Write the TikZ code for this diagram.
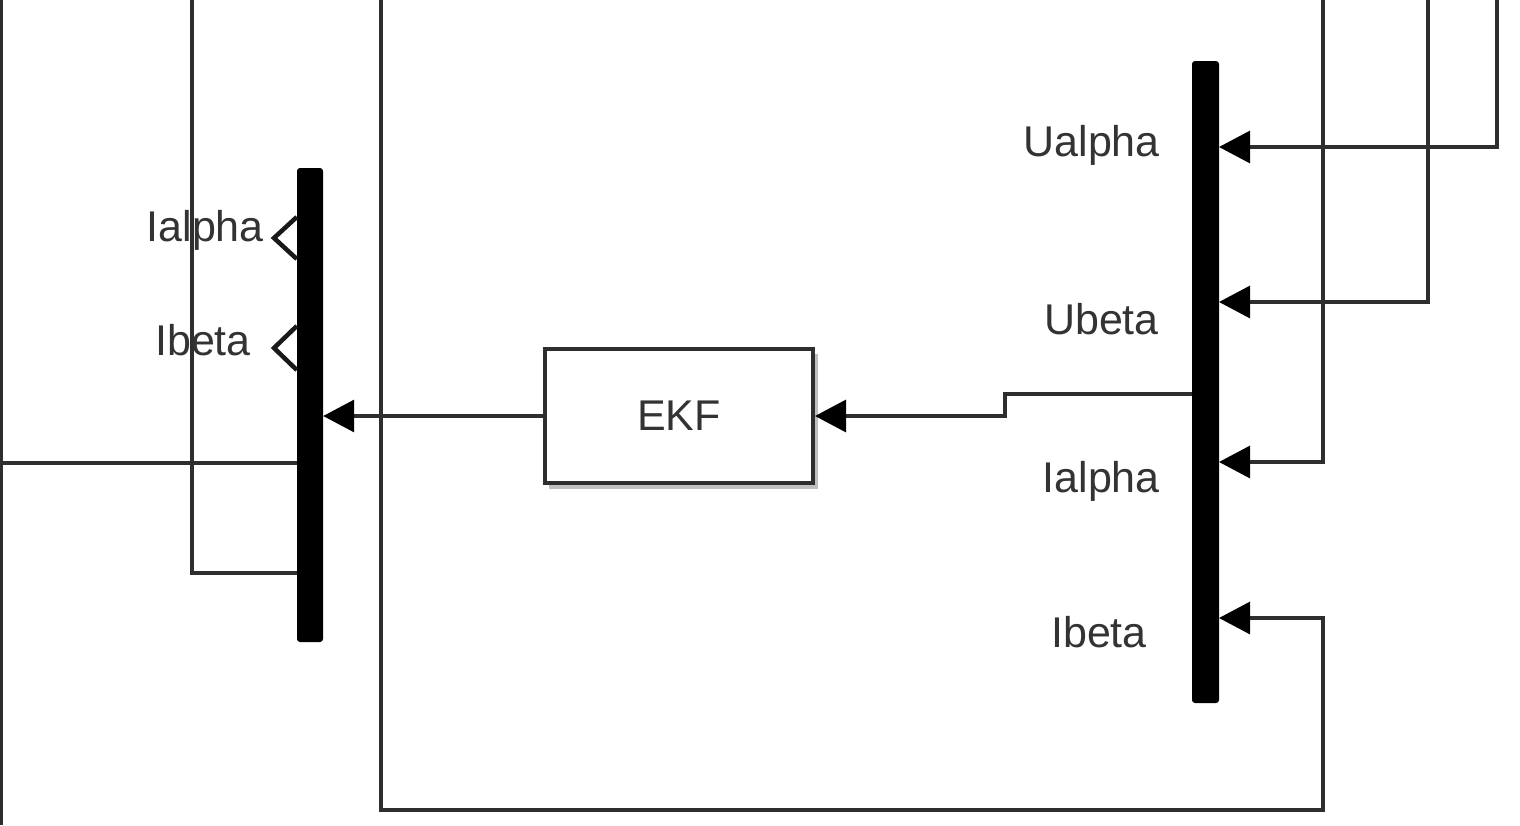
\documentclass[tikz,border=0pt]{standalone}
\usepackage{fontspec}
\setmainfont{Liberation Sans}
\usetikzlibrary{arrows.meta,calc}
\definecolor{wirec}{HTML}{2E2E2E}
\definecolor{textc}{HTML}{333333}
\tikzset{
  wire/.style={draw=wirec, line width=3.2pt},
  sig/.style={wire, -{Triangle[length=31pt,width=32pt,color=black]}},
  busbar/.style={fill=black, draw=none, rounded corners=3pt, inner sep=0pt, minimum width=26pt},
  lbl/.style={font=\fontsize{43}{50}\selectfont, text=textc, inner sep=0pt, anchor=base east},
  chev/.style={draw=black!90, line width=4.5pt, line join=miter},
}
\begin{document}
\begin{tikzpicture}[x=1pt,y=-1pt]
\useasboundingbox (0,0) rectangle (1520,825);
\fill[white] (0,0) rectangle (1520,825);

% blocks
\node[busbar, minimum height=474pt] (bsel) at (310,405) {};
\node[busbar, minimum height=642pt, minimum width=27pt] (bcr) at (1205.5,382) {};
\fill[black!25] (549,354) rectangle (818,489);
\node[draw=wirec, line width=4pt, fill=white, minimum width=268pt, minimum height=134pt, inner sep=0pt,
      font=\fontsize{43}{50}\selectfont, text=textc] (ekf) at (679,416) {EKF};

% port coordinates on bus creator
\coordinate (pUa) at (1219,147);
\coordinate (pUb) at (1219,302);
\coordinate (pIa) at (1219,462);
\coordinate (pIb) at (1219,618);
\coordinate (pOut) at (1192,394);
% free ends at the picture edges
\coordinate (srcUa) at (1497,0);
\coordinate (srcUb) at (1428,0);
\coordinate (srcIa) at (1323,0);
\coordinate (srcIb) at (381,0);
\coordinate (srcL1) at (192,0);
\coordinate (srcL2) at (0,463);
\coordinate (edgeTop) at (1.5,0);
\coordinate (edgeBot) at (1.5,825);
\coordinate (jog) at (1005,394);

% connectors into bus creator
\draw[sig] (srcUa) |- (pUa);
\draw[sig] (srcUb) |- (pUb);
\draw[sig] (srcIa) |- (pIa);
\draw[sig] (srcIb) -- (381,810) -| (1323,618) -- (pIb);

% bus creator -> EKF
\draw[sig] (pOut) -- (jog) -- (jog |- ekf.east) -- (ekf.east);
% EKF -> bus selector
\draw[sig] (ekf.west) -- (ekf.west -| bsel.east);

% other lines on the left
\draw[wire] (srcL2) -- (srcL2 -| bsel.west);
\draw[wire] (srcL1) |- (bsel.west |- 0,573);
\draw[wire] (edgeTop) -- (edgeBot);

% output port chevrons of bus selector
\draw[chev] (bsel.west |- 0,217) -- (274,238) -- (bsel.west |- 0,259);
\draw[chev] (bsel.west |- 0,326) -- (274,348) -- (bsel.west |- 0,370);

% labels
\node[lbl] (lIa) at (264,241) {Ialpha};
\node[lbl] (lIb) at (251,355) {Ibeta};
\node[lbl] (rUa) at (1160,156) {Ualpha};
\node[lbl] (rUb) at (1159,334) {Ubeta};
\node[lbl] (rIa) at (1160,492) {Ialpha};
\node[lbl] (rIb) at (1147,647) {Ibeta};
\end{tikzpicture}
\end{document}
